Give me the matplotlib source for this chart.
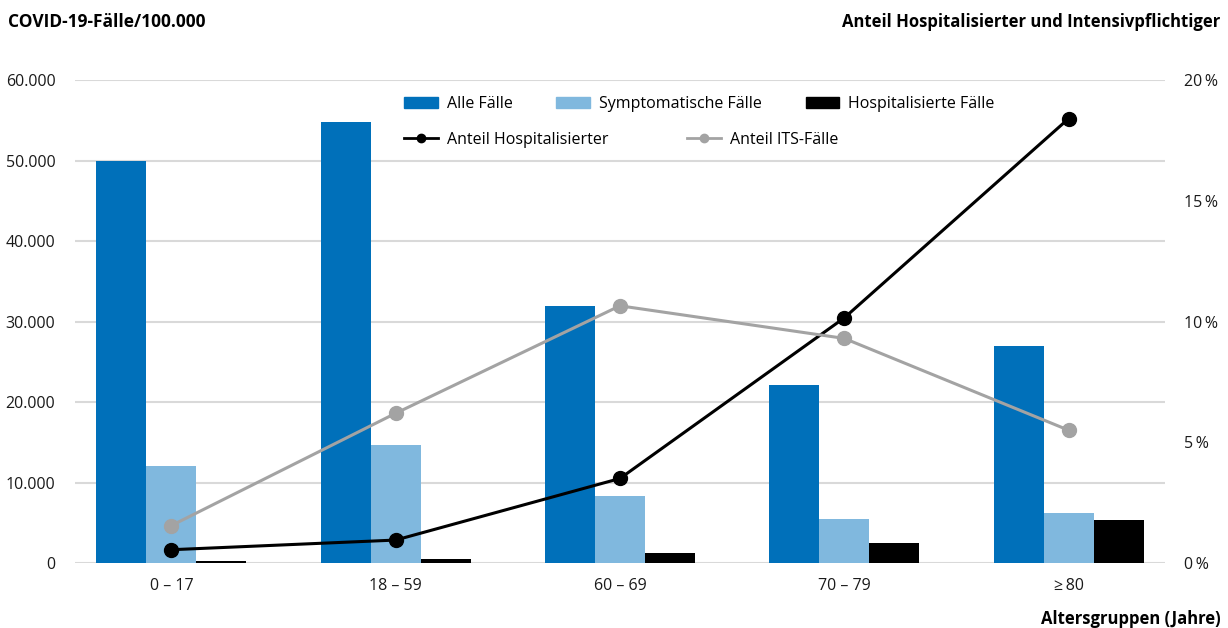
import matplotlib
matplotlib.use("Agg")
import matplotlib.pyplot as plt
from matplotlib.patches import Patch
from matplotlib.lines import Line2D
import numpy as np

plt.rcParams['font.family'] = ['Open Sans', 'DejaVu Sans']

# Daten
altersgruppen = ["0 – 17", "18 – 59", "60 – 69", "70 – 79", "≥\u200980"]
alle_faelle = [49900, 54800, 31900, 22100, 26950]
sympt_faelle = [12050, 14600, 8300, 5450, 6200]
hosp_faelle = [300, 550, 1250, 2500, 5400]
anteil_hosp = [0.55, 0.95, 3.5, 10.15, 18.4]
anteil_its = [1.55, 6.2, 10.65, 9.3, 5.5]

c_alle = "#0070ba"
c_sympt = "#80b8de"
c_hosp = "#000000"
c_its = "#a3a3a3"

fig = plt.figure(figsize=(12.28, 6.28), dpi=100)
ax = fig.add_axes([0.061, 0.1035, 0.8877, 0.7691])

x = np.arange(len(altersgruppen))
w = 0.223
ax.bar(x - w, alle_faelle, w, color=c_alle, zorder=2)
ax.bar(x, sympt_faelle, w, color=c_sympt, zorder=2)
ax.bar(x + w, hosp_faelle, w, color=c_hosp, zorder=2)

ax.set_xlim(-0.43, 4.43)
ax.set_ylim(0, 60000)
ax.set_yticks(range(0, 60001, 10000))
ax.set_yticklabels(["0" if v == 0 else f"{v:,}".replace(",", ".") for v in range(0, 60001, 10000)])
ax.grid(axis="y", color="#d9d9d9", linewidth=1.5, zorder=0)
ax.set_axisbelow(True)
for s in ax.spines.values():
    s.set_visible(False)
ax.tick_params(axis="both", length=0, labelsize=11.5, colors="#1a1a1a")
ax.tick_params(axis="y", pad=14)
ax.tick_params(axis="x", pad=11)
ax.set_xticks(x)
ax.set_xticklabels(altersgruppen)

ax2 = ax.twinx()
ax2.plot(x, anteil_hosp, color="black", lw=2.2, marker="o", ms=10, zorder=3)
ax2.plot(x, anteil_its, color=c_its, lw=2.2, marker="o", ms=10, zorder=3)
ax2.set_ylim(0, 20)
ax2.set_yticks([0, 5, 10, 15, 20])
ax2.set_yticklabels([f"{v}\u2009%" for v in [0, 5, 10, 15, 20]])
for s in ax2.spines.values():
    s.set_visible(False)
ax2.tick_params(axis="y", length=0, labelsize=11.5, colors="#1a1a1a", pad=14)

fig.text(0.0065, 0.965, "COVID-19-Fälle/100.000", fontsize=12.5, fontweight="bold", ha="left", va="center")
fig.text(0.994, 0.965, "Anteil Hospitalisierter und Intensivpflichtiger", fontsize=12,
         fontweight="bold", ha="right", va="center")
fig.text(0.994, 0.015, "Altersgruppen (Jahre)", fontsize=12, fontweight="bold", ha="right", va="center")

h1 = [Patch(color=c_alle), Patch(color=c_sympt), Patch(color=c_hosp)]
leg1 = ax2.legend(h1, ["Alle Fälle", "Symptomatische Fälle", "Hospitalisierte Fälle"], ncol=3,
                  loc="center left", bbox_to_anchor=(0.289, 0.95), frameon=False, fontsize=11.5,
                  handlelength=2.1, handleheight=0.6, columnspacing=2.75, handletextpad=0.55)
ax2.add_artist(leg1)
h2 = [Line2D([], [], color="black", lw=2, marker="o", ms=6),
      Line2D([], [], color=c_its, lw=2, marker="o", ms=6)]
ax2.legend(h2, ["Anteil Hospitalisierter", "Anteil ITS-Fälle"], ncol=2,
           loc="center left", bbox_to_anchor=(0.289, 0.876), frameon=False, fontsize=11.5,
           handlelength=2.1, columnspacing=4.95, handletextpad=0.55)

fig.savefig("out.png", dpi=100)
